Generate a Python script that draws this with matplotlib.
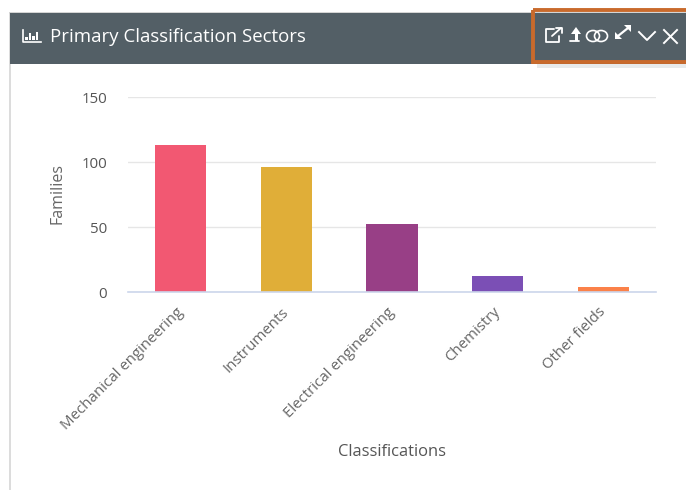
import matplotlib
matplotlib.use("Agg")
import matplotlib.pyplot as plt
from matplotlib.patches import Rectangle, Ellipse
from matplotlib.transforms import ScaledTranslation

plt.rcParams["font.family"] = ["Open Sans", "DejaVu Sans"]

categories = ["Mechanical engineering", "Instruments", "Electrical engineering", "Chemistry", "Other fields"]
families = [113, 96, 52, 12, 4]
colors = ["#f25872", "#e0ae38", "#983f86", "#7b4fb5", "#fb8149"]
y_ticks = [0, 50, 100, 150]
title = "Primary Classification Sectors"

W, H = 686, 490
fig = plt.figure(figsize=(W / 100, H / 100), dpi=100, facecolor="white")

# chart area, placed in pixels
ax = fig.add_axes([128 / W, 1 - 292 / H, 528 / W, 195 / H])
ax.bar(categories, families, width=0.485, color=colors, zorder=3)
ax.set_xlim(-0.5, 4.5)
ax.set_ylim(0, 150)
ax.set_yticks(y_ticks)
ax.grid(axis="y", color="#e6e6e6", lw=1)
ax.set_axisbelow(True)
for s in ["top", "right", "left"]:
    ax.spines[s].set_visible(False)
ax.spines["bottom"].set_color("#ccd6eb")
ax.spines["bottom"].set_linewidth(1.2)
ax.spines["bottom"].set_zorder(4)
ax.tick_params(axis="both", length=0)
ax.tick_params(axis="y", labelsize=10.8, labelcolor="#555555", pad=15)
ax.set_xticks(range(len(categories)))
ax.set_xticklabels(categories, rotation=45, ha="right", rotation_mode="anchor",
                   fontsize=10.8, color="#666666")
ax.tick_params(axis="x", pad=9)
# labels sit a little left of the tick
shift = ScaledTranslation(-5 / 100, 0, fig.dpi_scale_trans)
for lab in ax.get_xticklabels():
    lab.set_transform(lab.get_transform() + shift)
fig.text(58 / W, 1 - 193.5 / H, "Families", rotation=90, ha="center", va="center",
         fontsize=11.5, color="#666666")
fig.text(392 / W, 1 - 452 / H, "Classifications", ha="center", va="center",
         fontsize=11.9, color="#555555")

# panel chrome, pixel coordinates
ov = fig.add_axes([0, 0, 1, 1], zorder=5)
ov.set_xlim(0, W)
ov.set_ylim(H, 0)
ov.axis("off")
ov.add_patch(Rectangle((8.5, 13), 2, H - 13, color="#dcdcdc", lw=0))
ov.add_patch(Rectangle((9, 12), W, 2, color="#d5d5d5", lw=0))
ov.add_patch(Rectangle((10, 13), W - 10, 51, color="#535f66", lw=0))
ov.text(49.5, 37, title, color="white", fontsize=13.4, va="center", ha="left")

# bar-chart icon
ov.plot([23, 23, 41], [30, 42, 42], color="white", lw=1.2)
for x, top in [(26.5, 37), (30, 33), (33.5, 36), (37, 32)]:
    ov.add_patch(Rectangle((x - 1.3, top), 2.6, 40.5 - top, color="white", lw=0))

# orange highlight with a soft shadow
ov.add_patch(Rectangle((537, 64), W - 537, 4, color="#8f979b", alpha=0.2, lw=0))
ov.add_patch(Rectangle((533, 10), W - 533 + 4, 52, fill=False, ec="#c96a2c", lw=2.8))

icon = dict(color="white", lw=1.3, solid_capstyle="round")
# open-external icon
ov.plot([554, 546, 546, 559, 559], [29, 29, 42, 42, 36], **icon)
ov.plot([552, 561], [36, 28], **icon)
ov.plot([556, 562, 562], [28, 28, 33], **icon)
# up arrow
ov.fill([576, 571, 581], [27, 34, 34], color="white", lw=0)
ov.add_patch(Rectangle((574.5, 33), 3, 8, color="white", lw=0))
ov.plot([570, 579], [41.5, 41.5], **icon)
# two rings
ov.add_patch(Ellipse((593, 36), 13, 11, fill=False, ec="white", lw=1.2))
ov.add_patch(Ellipse((601, 36), 13, 11, fill=False, ec="white", lw=1.2))
# expand
ov.plot([618, 628], [36, 28], color="white", lw=1.6)
ov.fill([615, 622, 615], [39, 39, 32], color="white", lw=0)
ov.fill([631, 624, 631], [25, 25, 32], color="white", lw=0)
# chevron and close
ov.plot([639, 647, 655], [32, 40, 32], color="white", lw=1.4)
ov.plot([664, 677], [30, 43], color="white", lw=1.4)
ov.plot([677, 664], [30, 43], color="white", lw=1.4)

fig.savefig("out.png", dpi=100)
